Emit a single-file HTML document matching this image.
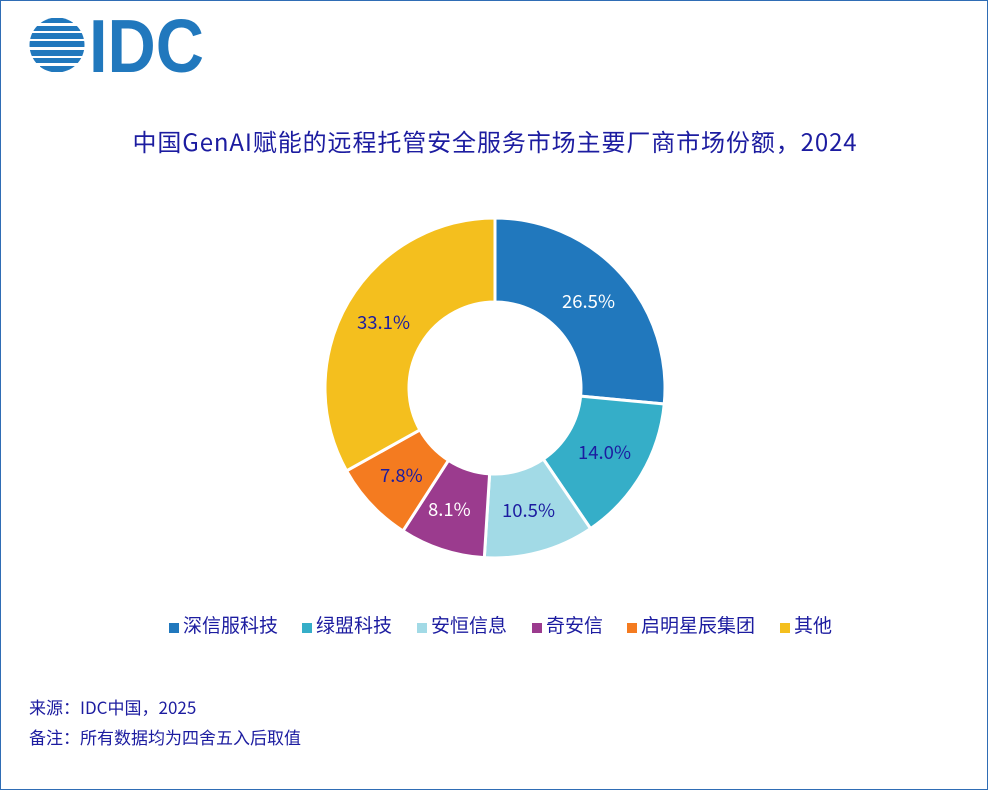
<!DOCTYPE html>
<html><head><meta charset="utf-8"><style>
body{margin:0;width:988px;height:790px;background:#fff;overflow:hidden;font-family:"Noto Sans CJK SC",sans-serif}
#f{position:absolute;left:0;top:0;width:986px;height:788px;border:1px solid #2f6db5}
.t{position:absolute;white-space:nowrap;line-height:1.2}
.sq{position:absolute;width:10px;height:10px;top:623px}
.lg{position:absolute;top:614px;font-size:19px;color:#1c1ca0;white-space:nowrap;line-height:1.2}
.v{font-size:18.5px}
</style></head><body><div id="f"></div>
<svg width="988" height="790" style="position:absolute;left:0;top:0">
<g fill="#2178bd">
<clipPath id="c"><circle cx="57" cy="45" r="27.5"/></clipPath>
<g clip-path="url(#c)">
<rect x="28" y="18" width="45" height="5"/><rect x="28" y="26" width="58" height="5"/>
<rect x="28" y="33" width="58" height="6"/><rect x="28" y="41" width="58" height="6"/>
<rect x="28" y="50" width="58" height="6"/><rect x="28" y="58" width="58" height="5"/>
<rect x="40" y="66" width="40" height="6"/></g>
<text x="89" y="72" font-size="75" font-weight="bold" textLength="115" lengthAdjust="spacingAndGlyphs" font-family="Liberation Sans">IDC</text>
</g>
<g id="d" stroke="#fff" stroke-width="3"></g>
</svg>
<div class="t" style="left:0;width:990px;text-align:center;top:127px;font-size:24px;letter-spacing:0.9px;color:#1c1ca0">中国GenAI赋能的远程托管安全服务市场主要厂商市场份额，2024</div>
<div class="t v" style="left:562px;top:290px;color:#fff">26.5%</div>
<div class="t v" style="left:578px;top:441px;color:#1c1ca0">14.0%</div>
<div class="t v" style="left:502px;top:499px;color:#1c1ca0">10.5%</div>
<div class="t v" style="left:428px;top:498px;color:#fff">8.1%</div>
<div class="t v" style="left:380px;top:464px;color:#1c1ca0">7.8%</div>
<div class="t v" style="left:357px;top:311px;color:#1c1ca0">33.1%</div>
<div class="sq" style="left:169px;background:#2178bd"></div><div class="lg" style="left:183px">深信服科技</div>
<div class="sq" style="left:302px;background:#35aec8"></div><div class="lg" style="left:316px">绿盟科技</div>
<div class="sq" style="left:417px;background:#a2dae6"></div><div class="lg" style="left:431px">安恒信息</div>
<div class="sq" style="left:532px;background:#9b3b8e"></div><div class="lg" style="left:546px">奇安信</div>
<div class="sq" style="left:627px;background:#f47b20"></div><div class="lg" style="left:641px">启明星辰集团</div>
<div class="sq" style="left:780px;background:#f4bf1e"></div><div class="lg" style="left:794px">其他</div>
<div class="t" style="left:29px;top:697px;font-size:17px;color:#1c1ca0">来源：IDC中国，2025</div>
<div class="t" style="left:29px;top:727px;font-size:17px;color:#1c1ca0">备注：所有数据均为四舍五入后取值</div>
<script>
var v=[26.5,14.0,10.5,8.1,7.8,33.1],c=["#2178bd","#35aec8","#a2dae6","#9b3b8e","#f47b20","#f4bf1e"];
var cx=495,cy=388,R=170,r=86,a=0,g=document.getElementById('d'),s='';
function p(rad,ang){return [cx+rad*Math.sin(ang),cy-rad*Math.cos(ang)];}
for(var i=0;i<6;i++){var a0=a/100*2*Math.PI;a+=v[i];var a1=a/100*2*Math.PI,l=(a1-a0)>Math.PI?1:0;
var A=p(R,a0),B=p(R,a1),C=p(r,a1),D=p(r,a0);
s+='<path fill="'+c[i]+'" d="M'+A+'A'+R+','+R+' 0 '+l+' 1 '+B+'L'+C+'A'+r+','+r+' 0 '+l+' 0 '+D+'Z"/>';}
g.innerHTML=s;
</script>
</body></html>
